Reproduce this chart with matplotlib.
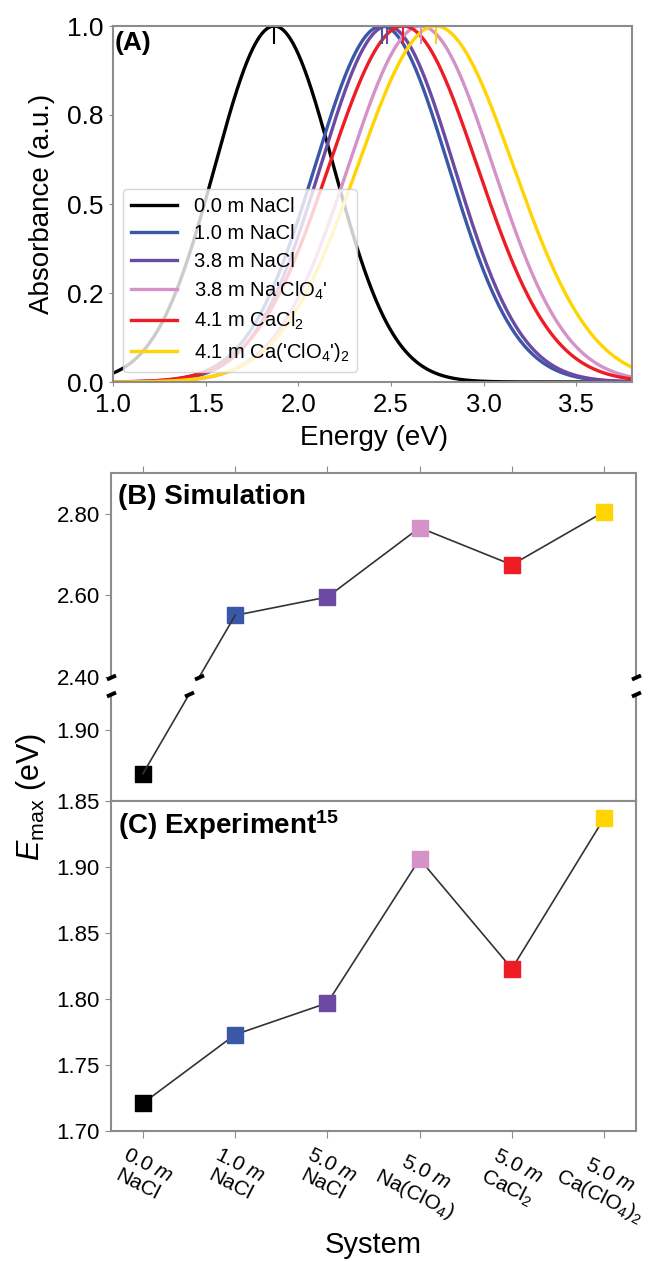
import numpy as np
import matplotlib
matplotlib.use("Agg")
import matplotlib.pyplot as plt
from matplotlib.lines import Line2D
from matplotlib.transforms import IdentityTransform

plt.rcParams['font.family'] = ['Liberation Sans', 'DejaVu Sans']
plt.rcParams['mathtext.fontset'] = 'custom'
plt.rcParams['mathtext.rm'] = 'Liberation Sans'
plt.rcParams['mathtext.it'] = 'Liberation Sans:italic'
plt.rcParams['mathtext.bf'] = 'Liberation Sans:bold'

# ====== panel A: absorption bands (peak position / width) ======
spec_labels = ["0.0 m NaCl", "1.0 m NaCl", "3.8 m NaCl", "3.8 m Na'ClO$_4$'",
               "4.1 m CaCl$_2$", "4.1 m Ca('ClO$_4$')$_2$"]
spec_center = [1.87, 2.45, 2.48, 2.66, 2.565, 2.74]   # eV
spec_sigma = [0.32, 0.36, 0.36, 0.39, 0.40, 0.42]     # eV
colors = ['#000000', '#3b58a8', '#6c4aa4', '#d492c9', '#ee1c25', '#ffd400']

# ====== panels B / C: E_max per system ======
systems = ["$\\mathit{0.0\\ m}$\nNaCl", "$\\mathit{1.0\\ m}$\nNaCl", "$\\mathit{5.0\\ m}$\nNaCl",
           "$\\mathit{5.0\\ m}$\nNa(ClO$_4$)", "$\\mathit{5.0\\ m}$\nCaCl$_2$",
           "$\\mathit{5.0\\ m}$\nCa(ClO$_4$)$_2$"]
e_sim = [1.869, 2.551, 2.596, 2.766, 2.675, 2.805]
e_exp = [1.721, 1.773, 1.797, 1.906, 1.823, 1.937]

W, H = 656, 1262
fig = plt.figure(figsize=(W / 100, H / 100), dpi=100)


def rect(l, t, r, b):
    return [l / W, 1 - b / H, (r - l) / W, (b - t) / H]


axA = fig.add_axes(rect(113, 26, 632, 382))
axB1 = fig.add_axes(rect(111, 473, 636, 677))
axB2 = fig.add_axes(rect(111, 694, 636, 801))
axC = fig.add_axes(rect(111, 801, 636, 1131))

spine_c = '0.55'
for ax in (axA, axB1, axB2, axC):
    for s in ax.spines.values():
        s.set_color(spine_c)
        s.set_linewidth(1.5)

# ---------------- (A) ----------------
E = np.linspace(1.0, 3.8, 800)
for c, s, col, lab in zip(spec_center, spec_sigma, colors, spec_labels):
    axA.plot(E, np.exp(-(E - c) ** 2 / (2 * s ** 2)), color=col, lw=2.4, label=lab)
axA.vlines(spec_center, 0.95, 1.0, colors=colors, lw=1.5)
axA.set_xlim(1.0, 3.8)
axA.set_ylim(0.0, 1.0)
axA.set_xticks([1.0, 1.5, 2.0, 2.5, 3.0, 3.5])
axA.set_xticklabels(['1.0', '1.5', '2.0', '2.5', '3.0', '3.5'])
axA.set_yticks([0.0, 0.25, 0.5, 0.75, 1.0])
axA.set_yticklabels(['0.0', '0.2', '0.5', '0.8', '1.0'])
axA.tick_params(axis='x', labelsize=18.5, length=3, pad=5, color=spine_c)
axA.tick_params(axis='y', labelsize=19, length=3, pad=4, color=spine_c)
axA.legend(loc='lower left', fontsize=14.5, handlelength=2.3, labelspacing=0.42,
           handletextpad=0.8, borderaxespad=0.5, framealpha=0.8)
axA.text(0.004, 0.985, '(A)', transform=axA.transAxes, fontsize=19,
         fontweight='bold', ha='left', va='top')
fig.text(42 / W, 1 - 204 / H, 'Absorbance (a.u.)', rotation=90, fontsize=20,
         ha='center', va='center')
fig.text(374 / W, 1 - 438 / H, 'Energy (eV)', fontsize=20, ha='center', va='center')

# ---------------- (B) broken axis ----------------
x = np.arange(len(systems))
xlim = (-0.345, 5.345)

axB1.plot(x[1:], e_sim[1:], color='0.2', lw=1.2, zorder=2)
axB1.scatter(x, e_sim, marker='s', s=11.5 ** 2, c=colors, zorder=3, clip_on=True)
axB2.scatter(x, e_sim, marker='s', s=11.5 ** 2, c=colors, zorder=3, clip_on=True)

axB1.set_xlim(*xlim)
axB2.set_xlim(*xlim)
axB1.set_ylim(2.40, 2.90)
axB2.set_ylim(1.85, 1.925)
axB1.set_yticks([2.40, 2.60, 2.80])
axB1.set_yticklabels(['2.40', '2.60', '2.80'])
axB2.set_yticks([1.85, 1.90])
axB2.set_yticklabels(['1.85', '1.90'])

axB1.spines['bottom'].set_visible(False)
axB2.spines['top'].set_visible(False)
axB1.xaxis.tick_top()
axB1.set_xticks(x)
axB1.tick_params(axis='x', labeltop=False, length=5, color=spine_c, direction='out')
axB2.set_xticks([])
for ax in (axB1, axB2):
    ax.tick_params(axis='y', labelsize=16, length=4, pad=4, color=spine_c)

# line black -> blue drawn in screen space across the gap
p_lo = axB2.transData.transform((x[0], e_sim[0]))
p_hi = axB1.transData.transform((x[1], e_sim[1]))
for ax in (axB1, axB2):
    ln = Line2D([p_lo[0], p_hi[0]], [p_lo[1], p_hi[1]], color='0.2', lw=1.2,
                transform=IdentityTransform(), zorder=2)
    ln.set_clip_path(ax.patch)
    fig.add_artist(ln)

brk = [(-1, -0.45), (1, 0.45)]
brk_pts = []
for ax, y_edge in ((axB1, axB1.bbox.y0), (axB2, axB2.bbox.y1)):
    brk_pts.append((ax.bbox.x0, y_edge))
    brk_pts.append((ax.bbox.x1, y_edge))
    t = (y_edge - p_lo[1]) / (p_hi[1] - p_lo[1])
    brk_pts.append((p_lo[0] + t * (p_hi[0] - p_lo[0]), y_edge))
for px, py in brk_pts:
    fig.add_artist(Line2D([px], [py], marker=brk, markersize=6.5, mew=2.8, color='k',
                          linestyle='none', transform=IdentityTransform()))

fig.text(118 / W, 1 - 497 / H, '(B) Simulation', fontsize=20, fontweight='bold',
         ha='left', va='center')

# ---------------- (C) ----------------
axC.plot(x, e_exp, color='0.2', lw=1.2, zorder=2)
axC.scatter(x, e_exp, marker='s', s=11.5 ** 2, c=colors, zorder=3)
axC.set_xlim(*xlim)
axC.set_ylim(1.70, 1.95)
axC.set_yticks([1.70, 1.75, 1.80, 1.85, 1.90])
axC.set_yticklabels(['1.70', '1.75', '1.80', '1.85', '1.90'])
axC.set_xticks(x)
axC.set_xticklabels(systems, rotation=-27, ha='center', va='top',
                    multialignment='center', fontsize=15)
axC.tick_params(axis='y', labelsize=16, length=4, pad=4, color=spine_c)
axC.tick_params(axis='x', length=5, pad=5, color=spine_c)

fig.text(118 / W, 1 - 825 / H, '(C) Experiment$^{\\mathbf{15}}$', fontsize=20,
         fontweight='bold', ha='left', va='center')
fig.text(31 / W, 1 - 797 / H, '$E_{\\mathrm{max}}$ (eV)', rotation=90, fontsize=22,
         ha='center', va='center')
fig.text(373 / W, 1 - 1245 / H, 'System', fontsize=21, ha='center', va='center')

fig.savefig('out.png', dpi=100)
